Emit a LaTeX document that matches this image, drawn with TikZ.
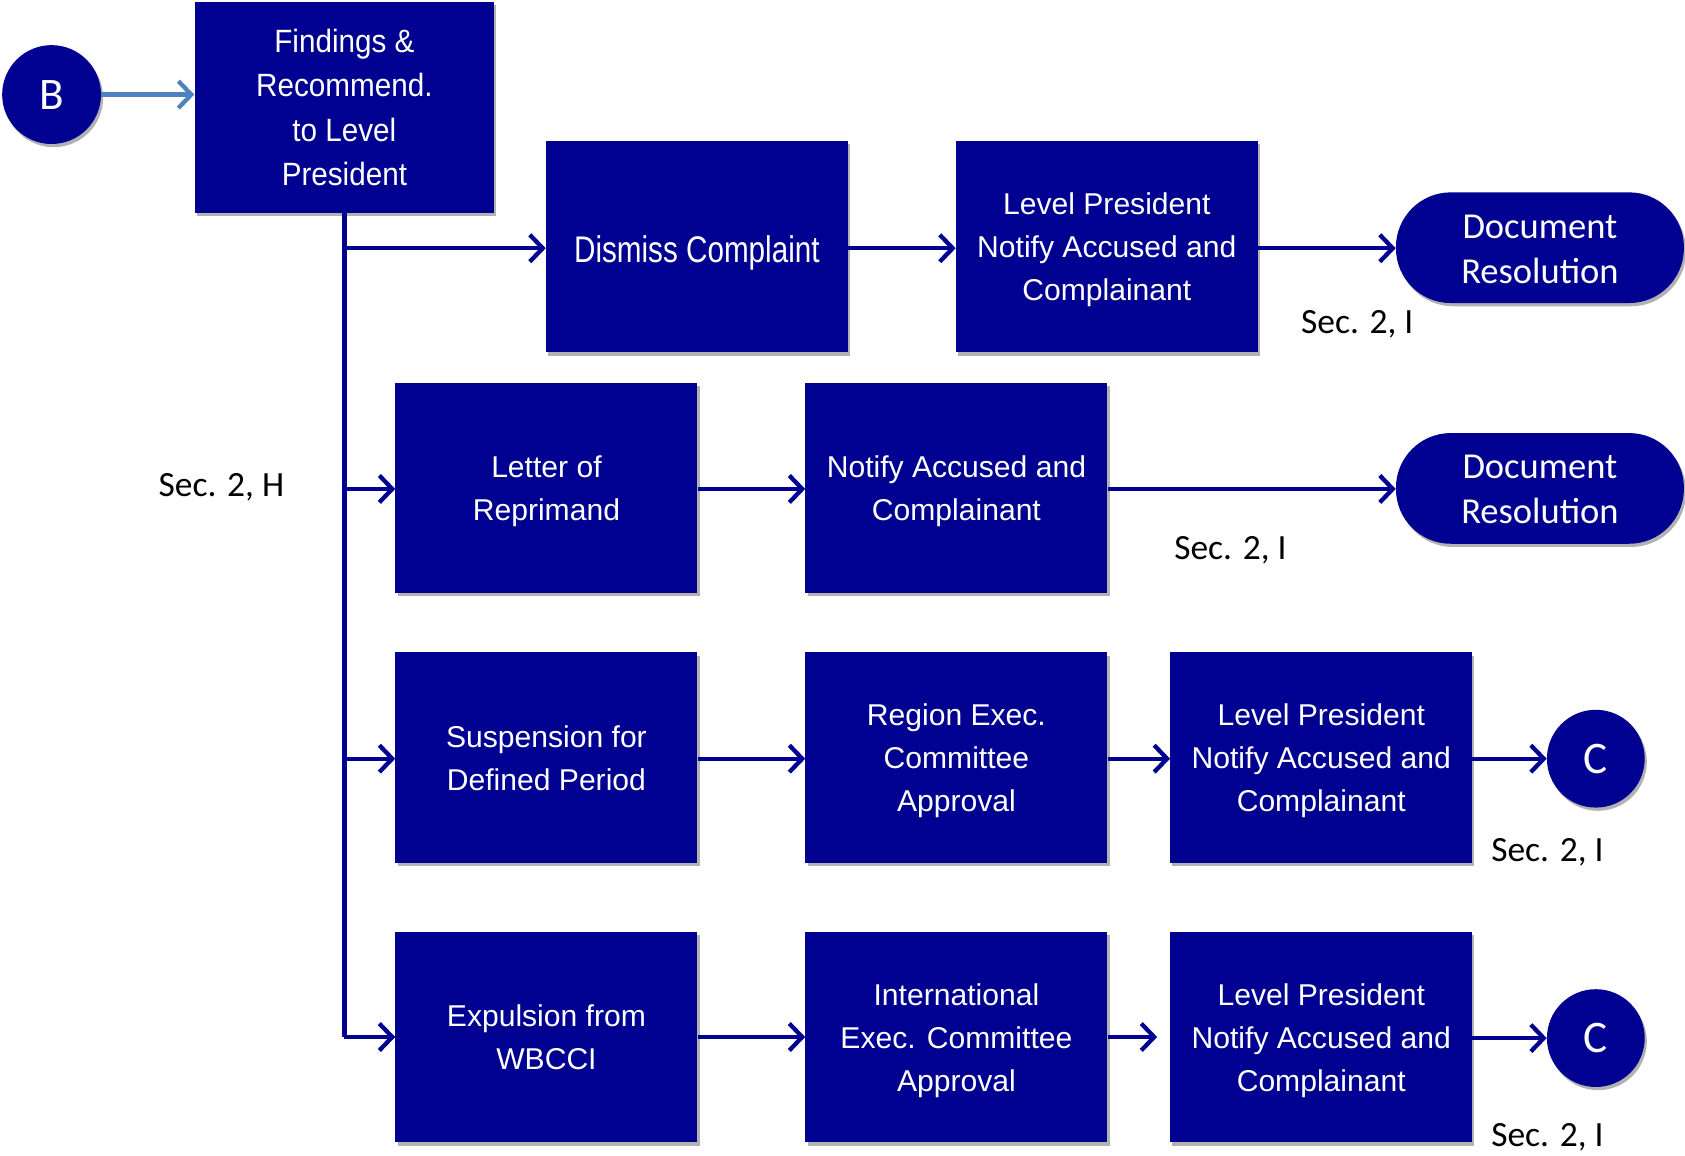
\documentclass[tikz,border=0pt]{standalone}
\usepackage{fontspec}
\setmainfont{Liberation Sans}
\newfontfamily\calib{Carlito}
\newfontfamily\narrowA[FakeStretch=0.92]{Liberation Sans}
\newfontfamily\narrowB[FakeStretch=0.80]{Liberation Sans}
\usetikzlibrary{arrows.meta,shadows}
\definecolor{navy}{RGB}{0,0,145}
\definecolor{barrow}{RGB}{79,129,189}
\newcommand{\topstr}{\rule{0pt}{28.5pt}}
\newcommand{\botstr}{\rule[-8pt]{0pt}{8pt}}
\begin{document}
\begin{tikzpicture}[x=1pt,y=-1pt,
  shad/.style={drop shadow={shadow xshift=2pt,shadow yshift=-3pt,opacity=0.3,fill=black}},
  box/.style={rectangle,fill=navy,text=white,minimum width=281pt,minimum height=197pt,
    inner sep=0pt,align=center,font=\fontsize{28}{40}\selectfont,shad},
  docres/.style={rectangle,rounded corners=51pt,fill=navy,text=white,minimum width=268pt,
    minimum height=103pt,inner sep=0pt,align=center,font=\calib\fontsize{34}{42}\selectfont,shad},
  conn/.style={circle,fill=navy,text=white,minimum size=91pt,inner sep=0pt,
    font=\calib\fontsize{42}{42}\selectfont,shad},
  seclbl/.style={inner sep=0pt,text=black,font=\calib\fontsize{33}{36}\selectfont},
  flow/.style={draw=navy,line width=4pt,-{Straight Barb[length=12pt,width=25pt]}},
  trunk/.style={draw=navy,line width=4pt}
]
\useasboundingbox (0,0) rectangle (1568,1075);

% nodes
\node[conn,minimum size=92pt] (B) at (48,88) {B};
\node[box,minimum width=279pt,minimum height=196pt,font=\narrowA\fontsize{30}{41}\selectfont] (F) at (320.5,100)
  {Findings \&\\Recommend.\\to Level\\President};

\node[box,font=\narrowB\fontsize{34.5}{40}\selectfont] (D1) at (648.5,229.5) {\rule{0pt}{37pt}Dismiss Complaint\botstr};
\node[box] (L1) at (1030,229.5) {\topstr Level President\\Notify Accused and\\Complainant\botstr};
\node[docres] (R1) at (1433,230.5) {\rule{0pt}{32pt}Document\\Resolution\rule[-8pt]{0pt}{8pt}};
\node[seclbl] (s1) at (1263,302) {Sec. 2, I};

\node[box,minimum height=196pt] (Let) at (508.5,454) {\topstr Letter of\\Reprimand\botstr};
\node[box,minimum height=196pt] (Not) at (890,454) {\topstr Notify Accused and\\Complainant\botstr};
\node[docres] (R2) at (1433,454.5) {\rule{0pt}{32pt}Document\\Resolution\rule[-8pt]{0pt}{8pt}};
\node[seclbl] (s2) at (1145,512) {Sec. 2, I};
\node[seclbl] (sH) at (206,453) {Sec. 2, H};

\node[box,minimum height=196pt] (Sus) at (508.5,705) {\topstr Suspension for\\Defined Period\botstr};
\node[box,minimum height=196pt] (Reg) at (890,705) {\topstr Region Exec.\\Committee\\Approval\botstr};
\node[box,minimum height=196pt] (L3) at (1229.5,705) {\topstr Level President\\Notify Accused and\\Complainant\botstr};
\node[conn] (C3) at (1485,706) {C};
\node[seclbl] (s3) at (1440,793) {Sec. 2, I};

\node[box,minimum height=196pt] (Exp) at (508.5,965) {\topstr Expulsion from\\WBCCI\botstr};
\node[box,minimum height=196pt] (Int) at (890,965) {\topstr International\\Exec. Committee\\Approval\botstr};
\node[box,minimum height=196pt] (L4) at (1229.5,965) {\topstr Level President\\Notify Accused and\\Complainant\botstr};
\node[conn] (C4) at (1485,966) {C};
\node[seclbl] (s4) at (1440,1058) {Sec. 2, I};

% junctions on the trunk
\coordinate (j1) at (F.south |- 0,231);
\coordinate (j2) at (F.south |- 0,455);
\coordinate (j3) at (F.south |- 0,706);
\coordinate (j4) at (F.south |- 0,965);

% connectors
\draw[draw=barrow,line width=4pt,-{Straight Barb[length=12pt,width=25pt]}] (B.east) -- (B.east -| F.west);
\draw[trunk] (F.south) -- (j4);
\draw[flow] (j1) -- (j1 -| D1.west);
\draw[flow] (j2) -- (j2 -| Let.west);
\draw[flow] (j3) -- (j3 -| Sus.west);
\draw[flow] (j4) -- (j4 -| Exp.west);

\draw[flow] (D1.east |- 0,231) -- (L1.west |- 0,231);
\draw[flow] (L1.east |- 0,231) -- (R1.west |- 0,231);

\draw[flow] (Let.east |- 0,455) -- (Not.west |- 0,455);
\draw[flow] (Not.east |- 0,455) -- (R2.west |- 0,455);

\draw[flow] (Sus.east |- 0,706) -- (Reg.west |- 0,706);
\draw[flow] (Reg.east |- 0,706) -- (L3.west |- 0,706);
\draw[flow] (L3.east |- 0,706) -- (C3.west);

\draw[flow] (Exp.east |- 0,965) -- (Int.west |- 0,965);
\draw[flow,shorten >=12pt] (Int.east |- 0,965) -- (L4.west |- 0,965);
\draw[flow] (L4.east |- 0,966) -- (C4.west);
\end{tikzpicture}
\end{document}
